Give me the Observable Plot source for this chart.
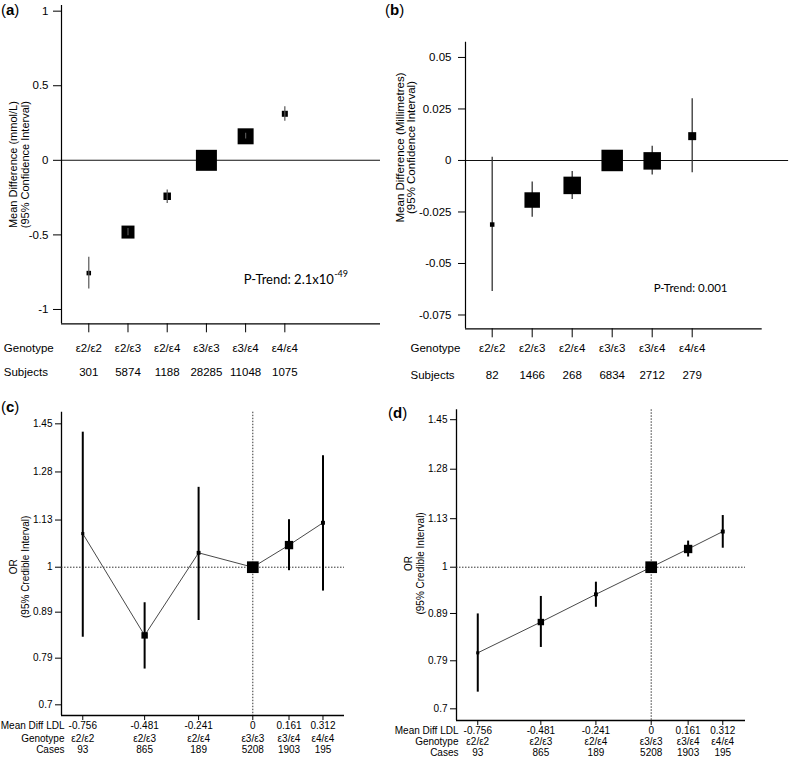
<!DOCTYPE html>
<html><head><meta charset="utf-8">
<script src="https://cdn.jsdelivr.net/npm/d3@7"></script>
<script src="https://cdn.jsdelivr.net/npm/@observablehq/plot@0.6"></script>
<style>
html,body{margin:0;padding:0;background:#fff;}
#fig{position:relative;width:790px;height:759px;background:#fff;overflow:hidden;}
.panel{position:absolute;}
.tag{position:absolute;font-family:"Liberation Sans",Arial,sans-serif;font-size:15px;color:#000;line-height:1;}
</style></head><body><div id="fig"></div>
<script>
// ---------- data ----------
const genotypes = ["ε2/ε2", "ε2/ε3", "ε2/ε4", "ε3/ε3", "ε3/ε4", "ε4/ε4"];

// (a) LDL-C mean difference (mmol/L)
const subjectsA = [301, 5874, 1188, 28285, 11048, 1075];
const meanDiffA = [-0.756, -0.481, -0.241, 0, 0.161, 0.312];
const lowerA = [-0.863, -0.505, -0.289, null, 0.143, 0.262];
const upperA = [-0.650, -0.457, -0.199, null, 0.181, 0.360];
const weightA = [4.6, 38.3, 12.8, 100, 58.0, 8.2];   // relative weight (%)
const pTrendA = "P-Trend: 2.1x10";
const pTrendExpA = "-49";

// (b) cIMT mean difference (mm)
const subjectsB = [82, 1466, 268, 6834, 2712, 279];
const meanDiffB = [-0.0311, -0.0192, -0.0121, 0, -0.0002, 0.0118];
const lowerB = [-0.0636, -0.0275, -0.0189, null, -0.0071, -0.0060];
const upperB = [0.0016, -0.0105, -0.0053, null, 0.0069, 0.0300];
const weightB = [4.4, 52.0, 66.3, 100, 66.3, 13.8];  // relative weight (%)
const pTrendB = "P-Trend: 0.001";

// (c), (d) odds ratios against mean LDL difference
const meanDiffLDL = [-0.756, -0.481, -0.241, 0, 0.161, 0.312];
const cases = [93, 865, 189, 5208, 1903, 195];
const orC = [1.091, 0.838, 1.038, 1, 1.059, 1.122];
const lowerC = [0.834, 0.768, 0.871, null, 0.991, 0.940];
const upperC = [1.419, 0.912, 1.230, null, 1.131, 1.335];
const orD = [0.806, 0.871, 0.934, 1, 1.047, 1.094];
const lowerD = [0.730, 0.817, 0.904, null, 1.026, 1.049];
const upperD = [0.889, 0.929, 0.963, null, 1.068, 1.139];

const ticksA = [-1, -0.5, 0, 0.5, 1];
const ticksB = [-0.075, -0.05, -0.025, 0, 0.025, 0.05];
const ticksOR = [0.7, 0.79, 0.89, 1, 1.13, 1.28, 1.45];

// ---------- helpers ----------
const FONT = "'Liberation Sans', Arial, Helvetica, sans-serif";
const fig = document.getElementById("fig");
function place(node, left, top) {
  const d = document.createElement("div");
  d.className = "panel";
  d.style.left = left + "px";
  d.style.top = top + "px";
  d.appendChild(node);
  fig.appendChild(d);
}
function tag(letter, left, top) {
  const d = document.createElement("div");
  d.className = "tag";
  d.style.left = left + "px";
  d.style.top = top + "px";
  d.innerHTML = "(<b>" + letter + "</b>)";
  fig.appendChild(d);
}
const baseStyle = {fontFamily: FONT, fontSize: "11px", color: "#000", background: "transparent", overflow: "visible"};
const fmt = d => String(d);
const idx = genotypes.map((_, i) => i);
const T = (extra) => ({lineAnchor: "middle", textAnchor: "middle", ...extra});

// ---------- panel (a) ----------
{
  const data = genotypes.map((g, i) => ({i, md: meanDiffA[i], lo: lowerA[i], hi: upperA[i], w: weightA[i]}));
  const xDom = [-0.696, 7.44], yDom = [-1.096, 1.038];
  const p = Plot.plot({
    width: 395, height: 380,
    marginLeft: 61, marginRight: 15, marginTop: 5, marginBottom: 56.7,
    x: {domain: xDom}, y: {domain: yDom},
    r: {type: "sqrt", domain: [0, 100], range: [0, 11.85]},
    style: baseStyle,
    marks: [
      Plot.ruleY([0], {stroke: "#111", strokeWidth: 1.1}),
      Plot.ruleX([xDom[0]], {stroke: "#000", strokeWidth: 1.2}),
      Plot.ruleY([yDom[0]], {stroke: "#000", strokeWidth: 1.2}),
      Plot.axisY(ticksA, {tickSize: 8, tickPadding: 5, tickFormat: fmt, fontSize: 11.5, label: null}),
      Plot.axisX(idx, {tickSize: 9, tickFormat: () => "", label: null}),
      Plot.dot(data, {x: "i", y: "md", r: "w", symbol: "square", fill: "#000"}),
      Plot.ruleX(data.filter(d => d.lo != null), {x: "i", y1: "lo", y2: "hi", stroke: "#555", strokeWidth: 1.2}),
      Plot.text(genotypes, T({x: (d, i) => i, frameAnchor: "bottom", dy: 24.7, fontSize: 11.5})),
      Plot.text(subjectsA, T({x: (d, i) => i, text: fmt, frameAnchor: "bottom", dy: 48.7, fontSize: 11.5})),
      Plot.text(["Genotype"], T({frameAnchor: "bottom-left", textAnchor: "start", dx: -57.7, dy: 24.7, fontSize: 11.5})),
      Plot.text(["Subjects"], T({frameAnchor: "bottom-left", textAnchor: "start", dx: -57.7, dy: 48.7, fontSize: 11.5})),
      Plot.text(["Mean Difference (mmol/L)"], T({frameAnchor: "left", rotate: -90, dx: -48, dy: 0, fontSize: 11})),
      Plot.text(["(95% Confidence Interval)"], T({frameAnchor: "left", rotate: -90, dx: -36, dy: 0, fontSize: 11})),
      Plot.text([pTrendA], T({frameAnchor: "bottom-right", textAnchor: "end", dx: -46.7, dy: -44.3, fontSize: 13, fontFamily: "Lato"})),
      Plot.text([pTrendExpA], T({frameAnchor: "bottom-right", textAnchor: "start", dx: -46.3, dy: -49.5, fontSize: 9, fontFamily: "Lato"}))
    ]
  });
  place(p, 0, 0);
}

// ---------- panel (b) ----------
{
  const data = genotypes.map((g, i) => ({i, md: meanDiffB[i], lo: lowerB[i], hi: upperB[i], w: weightB[i]}));
  const xDom = [-0.6675, 6.75], yDom = [-0.0817, 0.0574];
  const p = Plot.plot({
    width: 395, height: 380,
    marginLeft: 70, marginRight: 28.3, marginTop: 41.7, marginBottom: 51.7,
    x: {domain: xDom}, y: {domain: yDom},
    r: {type: "sqrt", domain: [0, 100], range: [0, 12.13]},
    style: baseStyle,
    marks: [
      Plot.ruleY([0], {x1: xDom[0], x2: 7.41, stroke: "#111", strokeWidth: 1.1}),
      Plot.ruleX([xDom[0]], {stroke: "#000", strokeWidth: 1.2}),
      Plot.ruleY([yDom[0]], {stroke: "#000", strokeWidth: 1.2}),
      Plot.axisY(ticksB, {tickSize: 7, tickPadding: 7, tickFormat: fmt, fontSize: 11.5, label: null}),
      Plot.axisX(idx, {tickSize: 9, tickFormat: () => "", label: null}),
      Plot.ruleX(data.filter(d => d.lo != null), {x: "i", y1: "lo", y2: "hi", stroke: "#333", strokeWidth: 1.3}),
      Plot.dot(data, {x: "i", y: "md", r: "w", symbol: "square", fill: "#000"}),
      Plot.text(genotypes, T({x: (d, i) => i, frameAnchor: "bottom", dy: 19.7, fontSize: 11.5})),
      Plot.text(subjectsB, T({x: (d, i) => i, text: fmt, frameAnchor: "bottom", dy: 46.7, fontSize: 11.5})),
      Plot.text(["Genotype"], T({frameAnchor: "bottom-left", textAnchor: "start", dx: -55, dy: 19.7, fontSize: 11.5})),
      Plot.text(["Subjects"], T({frameAnchor: "bottom-left", textAnchor: "start", dx: -55, dy: 46.7, fontSize: 11.5})),
      Plot.text(["Mean Difference (Millimetres)"], T({frameAnchor: "left", rotate: -90, dx: -65, dy: -38, fontSize: 11.5})),
      Plot.text(["(95% Confidence Interval)"], T({frameAnchor: "left", rotate: -90, dx: -54, dy: -38, fontSize: 11.5})),
      Plot.text([pTrendB], T({frameAnchor: "bottom-right", textAnchor: "end", dx: -34.7, dy: -40.6, fontSize: 11.5, fontFamily: "Lato"}))
    ]
  });
  place(p, 395, 0);
}

// ---------- panels (c), (d) ----------
function orPanel({or, lo, hi, xDom, yDom, mL, mR, mT, mB, rows, labelDx, labelDy}) {
  const data = meanDiffLDL.map((m, i) => ({m, or: or[i], lo: lo[i], hi: hi[i], n: cases[i]}));
  return Plot.plot({
    width: 395, height: 379,
    marginLeft: mL, marginRight: mR, marginTop: mT, marginBottom: mB,
    x: {domain: xDom},
    y: {type: "log", domain: yDom},
    r: {type: "pow", exponent: 1 / 3, domain: [0, 5208], range: [0, 6.6]},
    style: {...baseStyle, fontSize: "10px"},
    marks: [
      Plot.ruleX([xDom[0]], {stroke: "#000", strokeWidth: 1.3}),
      Plot.ruleY([yDom[0]], {stroke: "#000", strokeWidth: 1.3}),
      Plot.ruleX([0], {stroke: "#333", strokeWidth: 1, strokeDasharray: "1.5,1.5"}),
      Plot.ruleY([1], {stroke: "#333", strokeWidth: 1, strokeDasharray: "1.5,1.5"}),
      Plot.axisY(ticksOR, {tickSize: 6, tickPadding: 3, tickFormat: fmt, fontSize: 10, label: null}),
      Plot.axisX(meanDiffLDL, {tickSize: 5, tickFormat: () => "", label: null}),
      Plot.line(data, {x: "m", y: "or", stroke: "#333", strokeWidth: 0.9}),
      Plot.ruleX(data.filter(d => d.lo != null), {x: "m", y1: "lo", y2: "hi", stroke: "#000", strokeWidth: 2}),
      Plot.dot(data, {x: "m", y: "or", r: "n", symbol: "square", fill: "#000"}),
      Plot.text(meanDiffLDL, T({x: d => d, text: fmt, frameAnchor: "bottom", dy: rows[0], fontSize: 10})),
      Plot.text(genotypes, T({x: (d, i) => meanDiffLDL[i], frameAnchor: "bottom", dy: rows[1], fontSize: 10})),
      Plot.text(cases, T({x: (d, i) => meanDiffLDL[i], text: fmt, frameAnchor: "bottom", dy: rows[2], fontSize: 10})),
      Plot.text(["Mean Diff LDL"], T({frameAnchor: "bottom-left", textAnchor: "end", dx: labelDx, dy: rows[0], fontSize: 10})),
      Plot.text(["Genotype"], T({frameAnchor: "bottom-left", textAnchor: "end", dx: labelDx, dy: rows[1], fontSize: 10})),
      Plot.text(["Cases"], T({frameAnchor: "bottom-left", textAnchor: "end", dx: labelDx, dy: rows[2], fontSize: 10})),
      Plot.text(["OR"], T({frameAnchor: "left", rotate: -90, dx: -48, dy: labelDy, fontSize: 10})),
      Plot.text(["(95% Credible Interval)"], T({frameAnchor: "left", rotate: -90, dx: -35.5, dy: labelDy, fontSize: 10}))
    ]
  });
}
place(orPanel({or: orC, lo: lowerC, hi: upperC, xDom: [-0.8506, 0.4077], yDom: [0.6809, 1.4944],
  mL: 61, mR: 51, mT: 31.7, mB: 44, rows: [10.7, 23.3, 34], labelDx: 3, labelDy: 3}), 0, 380);
place(orPanel({or: orD, lo: lowerD, hi: upperD, xDom: [-0.8487, 0.4111], yDom: [0.6797, 1.4866],
  mL: 61, mR: 45, mT: 29.3, mB: 39, rows: [10, 21.7, 32.7], labelDx: 2, labelDy: -1.7}), 395, 380);

tag("a", 1, 2);
tag("b", 385, 2);
tag("c", 1, 399);
tag("d", 388, 405);
</script></body></html>
